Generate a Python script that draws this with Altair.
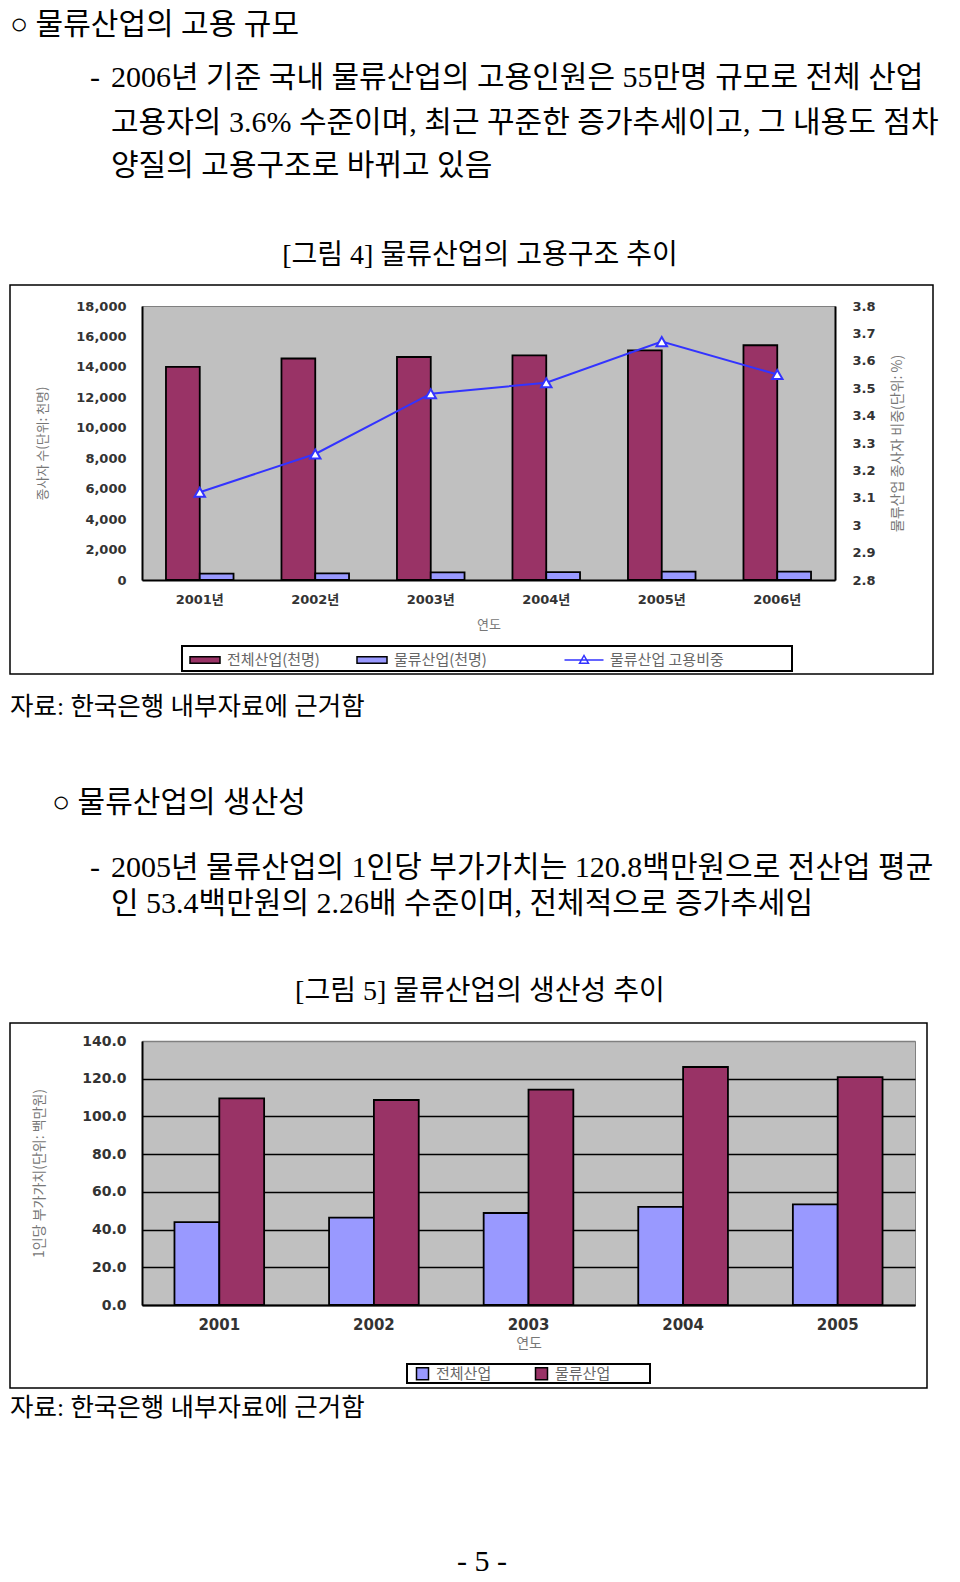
import altair as alt
import pandas as pd

# ---------------- data ----------------
years1 = ["2001년", "2002년", "2003년", "2004년", "2005년", "2006년"]
total_emp = [14000, 14550, 14650, 14760, 15090, 15420]      # 전체산업(천명)
logi_emp = [420, 440, 500, 520, 550, 550]                    # 물류산업(천명)
logi_share = [3.12, 3.26, 3.48, 3.52, 3.67, 3.55]            # 물류산업 고용비중(%)
series1 = ["전체산업(천명)", "물류산업(천명)"]
line_name = "물류산업 고용비중"

years2 = ["2001", "2002", "2003", "2004", "2005"]
total_va = [44.0, 46.3, 48.8, 52.0, 53.4]                    # 전체산업
logi_va = [109.6, 108.7, 114.2, 126.2, 120.8]                # 물류산업
series2 = ["전체산업", "물류산업"]

left_ticks1 = [0, 2000, 4000, 6000, 8000, 10000, 12000, 14000, 16000, 18000]
right_ticks1 = [2.8, 2.9, 3.0, 3.1, 3.2, 3.3, 3.4, 3.5, 3.6, 3.7, 3.8]
ticks2 = [0, 20, 40, 60, 80, 100, 120, 140]

head_title1 = "○ 물류산업의 고용 규모"
body1 = [
    "2006년 기준 국내 물류산업의 고용인원은 55만명 규모로 전체 산업",
    "고용자의 3.6% 수준이며, 최근 꾸준한 증가추세이고, 그 내용도 점차",
    "양질의 고용구조로 바뀌고 있음",
]
caption1 = "[그림 4] 물류산업의 고용구조 추이"
source_text = "자료: 한국은행 내부자료에 근거함"
head_title2 = "○ 물류산업의 생산성"
body2 = [
    "2005년 물류산업의 1인당 부가가치는 120.8백만원으로 전산업 평균",
    "인 53.4백만원의 2.26배 수준이며, 전체적으로 증가추세임",
]
caption2 = "[그림 5] 물류산업의 생산성 추이"
page_no = "- 5 -"

# ---------------- styles ----------------
BODY_FONT = "'Liberation Serif', 'Noto Sans CJK KR'"
CJK = "'Noto Sans CJK KR'"
LABEL_FONT = "'DejaVu Sans', 'Noto Sans CJK KR'"
MAROON = "#993366"
LBLUE = "#9999FF"
LINE_BLUE = "#3333FF"
GRAY = "#C0C0C0"

W1, H1 = 693, 274
W2, H2 = 773, 264
TW = 773
BODY = 30


def text_mark(s, x, y, align="left", size=BODY):
    return alt.Chart(pd.DataFrame({"t": [s]})).mark_text(
        align=align, baseline="middle", font=BODY_FONT, fontSize=size, color="black"
    ).encode(text="t:N", x=alt.value(x), y=alt.value(y))


def frame(x1, x2, y1, y2, width=1.5):
    return alt.Chart(pd.DataFrame({"f": [0]})).mark_rect(
        fillOpacity=0, stroke="black", strokeWidth=width
    ).encode(x=alt.value(x1), x2=alt.value(x2), y=alt.value(y1), y2=alt.value(y2))


# ---------------- header text ----------------
panel_a = alt.layer(
    text_mark(head_title1, -132, 17),
    text_mark("-", -52, 70),
    text_mark(body1[0], -31, 70),
    text_mark(body1[1], -31, 115),
    text_mark(body1[2], -31, 158),
    text_mark(caption1, 338, 248, align="center", size=28),
).properties(width=TW, height=275)

# ---------------- chart 1 ----------------
df1 = pd.DataFrame({
    "연도": years1 * 2,
    "계열": [series1[0]] * len(years1) + [series1[1]] * len(years1),
    "값": total_emp + logi_emp,
})
df_line = pd.DataFrame({"연도": years1, "비중": logi_share, "계열": [line_name] * len(years1)})

x1 = alt.X(
    "연도:N", sort=years1,
    scale=alt.Scale(paddingInner=0.415, paddingOuter=0.2075),
    axis=alt.Axis(
        title="연도", labelAngle=0, ticks=False, tickSize=0, labelPadding=13,
        labelFont=LABEL_FONT, labelFontWeight="bold", labelFontSize=13, labelColor="#333",
        titleFont=CJK, titleFontSize=13, titleFontWeight="normal", titleColor="#777",
        titleY=44, titleBaseline="middle",
        domainColor="black", domainWidth=2,
    ),
)

bars1 = alt.Chart(df1).mark_bar(stroke="black", strokeWidth=1.8).encode(
    x=x1,
    xOffset=alt.XOffset("계열:N", sort=series1),
    y=alt.Y(
        "값:Q",
        scale=alt.Scale(domain=[0, 18000], nice=False),
        axis=alt.Axis(
            orient="left", values=left_ticks1, format=",d", grid=False,
            ticks=False, tickSize=0, labelPadding=16,
            labelFont=LABEL_FONT, labelFontWeight="bold", labelFontSize=13, labelColor="#333",
            title="종사자 수(단위: 천명)", titleFont=CJK, titleFontSize=13,
            titleFontWeight="normal", titleColor="#777", titleAngle=270,
            titleX=-100, titleY=H1 / 2, titleAlign="center", titleBaseline="middle",
            domainColor="black", domainWidth=2,
        ),
    ),
    color=alt.Color(
        "계열:N", sort=series1,
        scale=alt.Scale(domain=series1, range=[MAROON, LBLUE]),
        legend=alt.Legend(
            title=None, orient="none", direction="horizontal", legendX=47, legendY=338,
            symbolType="M-1,-0.22H1V0.22H-1Z", symbolSize=900,
            symbolStrokeColor="black", symbolStrokeWidth=1.5, symbolOpacity=1,
            labelFont=CJK, labelFontSize=15, labelColor="#666", labelOffset=6,
            columnPadding=34, padding=0,
        ),
    ),
)

line1 = alt.Chart(df_line).mark_line(
    strokeWidth=2,
    point=alt.OverlayMarkDef(shape="triangle-up", filled=True, fill="white",
                             stroke=LINE_BLUE, strokeWidth=2, size=110),
).encode(
    x=alt.X("연도:N", sort=years1, title="연도"),
    y=alt.Y(
        "비중:Q",
        scale=alt.Scale(domain=[2.8, 3.8], nice=False, zero=False),
        axis=alt.Axis(
            orient="right", values=right_ticks1, grid=False,
            labelExpr="format(datum.value, '~g')",
            ticks=False, tickSize=0, labelPadding=17,
            labelFont=LABEL_FONT, labelFontWeight="bold", labelFontSize=13, labelColor="#333",
            title="물류산업 종사자 비중(단위: %)", titleFont=CJK, titleFontSize=14,
            titleFontWeight="normal", titleColor="#777", titleAngle=270,
            titleX=62, titleY=H1 / 2, titleAlign="center", titleBaseline="middle",
            domainColor="black", domainWidth=2,
        ),
    ),
    stroke=alt.Stroke(
        "계열:N",
        scale=alt.Scale(domain=[line_name], range=[LINE_BLUE]),
        legend=alt.Legend(
            title=None, orient="none", direction="horizontal", legendX=426, legendY=338,
            symbolType="M-1.3,0H1.3M-0.3,0.22L0,-0.3L0.3,0.22Z", symbolSize=900,
            symbolStrokeWidth=1.5, symbolFillColor="white",
            labelFont=CJK, labelFontSize=15, labelColor="#666", labelOffset=10, padding=0,
        ),
    ),
)

panel_b = alt.layer(
    bars1, line1,
    frame(-132, 791, -21, 368),
    frame(40, 650, 340, 365, width=2),
).resolve_scale(y="independent").properties(
    width=W1, height=H1,
    view=alt.ViewBackground(fill=GRAY, stroke="#808080", strokeWidth=1),
)

# ---------------- middle text ----------------
panel_c = alt.layer(
    text_mark(source_text, -132, 31, size=25.5),
    text_mark(head_title2, -90, 127),
    text_mark("-", -52, 192),
    text_mark(body2[0], -31, 192),
    text_mark(body2[1], -31, 228),
    text_mark(caption2, 338, 316, align="center", size=28),
).properties(width=TW, height=345)

# ---------------- chart 2 ----------------
df2 = pd.DataFrame({
    "연도": years2 * 2,
    "계열": [series2[0]] * len(years2) + [series2[1]] * len(years2),
    "값": total_va + logi_va,
})

bars2 = alt.Chart(df2).mark_bar(stroke="black", strokeWidth=1.8).encode(
    x=alt.X(
        "연도:N", sort=years2,
        scale=alt.Scale(paddingInner=0.42, paddingOuter=0.21),
        axis=alt.Axis(
            title="연도", labelAngle=0, ticks=False, tickSize=0, labelPadding=12,
            labelFont=LABEL_FONT, labelFontWeight="bold", labelFontSize=15, labelColor="#333",
            titleFont=CJK, titleFontSize=14, titleFontWeight="normal", titleColor="#777",
            titleY=38, titleBaseline="middle",
            domainColor="black", domainWidth=2,
        ),
    ),
    xOffset=alt.XOffset("계열:N", sort=series2),
    y=alt.Y(
        "값:Q",
        scale=alt.Scale(domain=[0, 140], nice=False),
        axis=alt.Axis(
            orient="left", values=ticks2, format=".1f",
            grid=True, gridWidth=1.5,
            gridColor={"condition": {"test": "datum.value >= 140", "value": "#808080"}, "value": "black"},
            ticks=False, tickSize=0, labelPadding=16,
            labelFont=LABEL_FONT, labelFontWeight="bold", labelFontSize=14, labelColor="#333",
            title="1인당 부가가치(단위: 백만원)", titleFont=CJK, titleFontSize=14,
            titleFontWeight="normal", titleColor="#777", titleAngle=270,
            titleX=-103, titleY=H2 / 2, titleAlign="center", titleBaseline="middle",
            domainColor="black", domainWidth=2,
        ),
    ),
    color=alt.Color(
        "계열:N", sort=series2,
        scale=alt.Scale(domain=series2, range=[LBLUE, MAROON]),
        legend=alt.Legend(
            title=None, orient="none", direction="horizontal", legendX=273, legendY=325,
            symbolType="square", symbolSize=144,
            symbolStrokeColor="black", symbolStrokeWidth=1.5, symbolOpacity=1,
            labelFont=CJK, labelFontSize=15, labelColor="#666", labelOffset=6,
            columnPadding=40, padding=0,
        ),
    ),
)

panel_d = alt.layer(
    bars2,
    frame(-132, 785, -18, 347),
    frame(265, 508, 323, 342, width=2),
).properties(
    width=W2, height=H2,
    view=alt.ViewBackground(fill=GRAY, stroke="#808080", strokeWidth=1),
)

# ---------------- footer text ----------------
panel_e = alt.layer(
    text_mark(source_text, -132, 18, size=25.5),
    text_mark(page_no, 340, 172, align="center", size=30),
).properties(width=TW, height=185)

chart = alt.vconcat(
    panel_a, panel_b, panel_c, panel_d, panel_e, spacing=0
).resolve_scale(
    color="independent", stroke="independent", xOffset="independent"
).properties(padding=0, background="white").configure_view(strokeWidth=0)

chart.save("out.html", embed_options={"renderer": "svg", "actions": False})
